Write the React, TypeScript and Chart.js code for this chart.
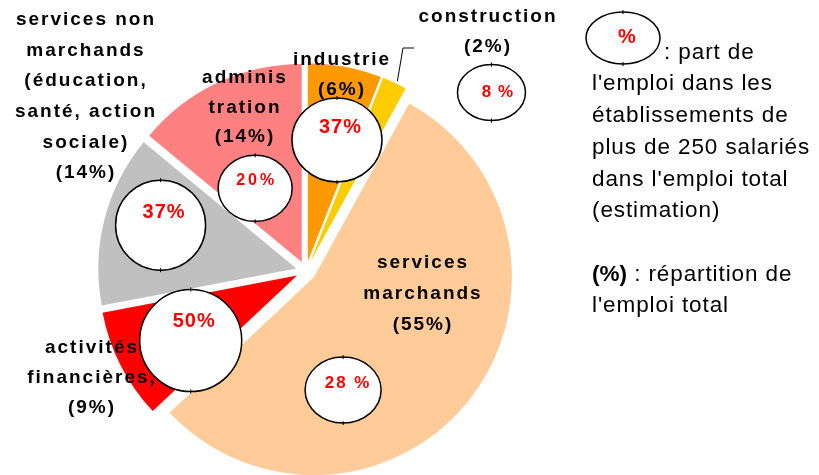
import React, { useEffect, useRef } from 'react';
import { Chart, PieController, ArcElement } from 'chart.js';

Chart.register(PieController, ArcElement);

// ---------- data ----------
const categories = [
  'industrie',
  'construction',
  'services marchands',
  'activités financières',
  'services non marchands',
  'administration',
];
// répartition de l'emploi total (%)
const employmentShare = [6, 2, 55, 9, 14, 14];
// part de l'emploi dans les établissements de plus de 250 salariés (%)
const largeEstabShare = [37, 8, 28, 50, 37, 20];
const largeEstabText = ['37%', '8 %', '28 %', '50%', '37%', '20%'];
const sliceColors = ['#FF9900', '#FFCC00', '#FFCC99', '#FF0000', '#C0C0C0', '#FF8080'];
const labelLines = [
  ['industrie'],
  ['construction'],
  ['services', 'marchands'],
  ['activités', 'financières,'],
  ['services non', 'marchands', '(éducation,', 'santé, action', 'sociale)'],
  ['adminis', 'tration'],
];
const legendLines = [
  "l'emploi dans les",
  'établissements de',
  'plus de 250 salariés',
  "dans l'emploi total",
  '(estimation)',
];

// ---------- layout (not data) ----------
const W = 819;
const H = 475;
const RADIUS = 198;
const EXPLODE = 10;
const labelLayout = [
  { x: 341, y: 60, lh: 30 },
  { x: 487, y: 17, lh: 30 },
  { x: 422, y: 263, lh: 31 },
  { x: 91, y: 348, lh: 30 },
  { x: 85, y: 20, lh: 30.6 },
  { x: 244, y: 78, lh: 29.5 },
];
// bubble centres in polar coordinates around pie centre (deg clockwise from top, fraction of radius)
const bubbleLayout = [
  { angle: 13.3, dist: 0.68, rx: 45, ry: 42, dx: 3, dy: -12, size: 20, ls: 1 },
  { angle: 46.1, dist: 1.3, rx: 34, ry: 28, dx: 6, dy: 0, size: 17, ls: 1 },
  { angle: 162.7, dist: 0.63, rx: 38, ry: 33, dx: 4, dy: -7, size: 17, ls: 2 },
  { angle: 238.9, dist: 0.68, rx: 51, ry: 51, dx: 3, dy: -19, size: 20, ls: 1 },
  { angle: 287.5, dist: 0.77, rx: 45, ry: 45, dx: 3, dy: -13, size: 20, ls: 1 },
  { angle: 328.4, dist: 0.49, rx: 37, ry: 33, dx: 0, dy: -8, size: 16, ls: 3 },
];

const FONT = '"Liberation Sans", Arial, sans-serif';

function setLS(ctx: any, px: number) {
  if ('letterSpacing' in ctx) ctx.letterSpacing = px + 'px';
}

function centeredText(ctx: CanvasRenderingContext2D, text: string, x: number, y: number, ls: number) {
  setLS(ctx, ls);
  ctx.textAlign = 'center';
  ctx.textBaseline = 'middle';
  ctx.fillText(text, x + ls / 2, y);
}

function drawBubble(ctx: CanvasRenderingContext2D, x: number, y: number, rx: number, ry: number) {
  ctx.save();
  ctx.beginPath();
  ctx.ellipse(x, y, rx, ry, 0, 0, Math.PI * 2);
  ctx.fillStyle = '#FFFFFF';
  ctx.fill();
  ctx.lineWidth = 1.5;
  ctx.strokeStyle = '#000000';
  ctx.stroke();
  ctx.beginPath();
  ctx.moveTo(x, y - ry - 2);
  ctx.lineTo(x, y - ry + 2);
  ctx.moveTo(x, y + ry - 2);
  ctx.lineTo(x, y + ry + 2);
  ctx.lineWidth = 1;
  ctx.stroke();
  ctx.restore();
}

const explodePlugin = {
  id: 'explodeSlices',
  beforeDatasetDraw(chart: any, args: any) {
    const ctx = chart.ctx;
    args.meta.data.forEach((arc: any) => {
      const mid = (arc.startAngle + arc.endAngle) / 2;
      ctx.save();
      ctx.translate(Math.cos(mid) * EXPLODE, Math.sin(mid) * EXPLODE);
      arc.draw(ctx);
      ctx.restore();
    });
    return false;
  },
};

const annotationPlugin = {
  id: 'annotations',
  afterDraw(chart: any) {
    const ctx: CanvasRenderingContext2D = chart.ctx;
    const meta = chart.getDatasetMeta(0);
    const first = meta.data[0];
    const cx = first.x;
    const cy = first.y;
    const R = first.outerRadius;

    // leader line for construction
    const c = meta.data[1];
    const cm = (c.startAngle + c.endAngle) / 2;
    ctx.save();
    ctx.strokeStyle = '#000';
    ctx.lineWidth = 1;
    ctx.beginPath();
    ctx.moveTo(cx + Math.cos(cm) * (R + EXPLODE + 2) + 2, cy + Math.sin(cm) * (R + EXPLODE + 2));
    ctx.lineTo(403, 48);
    ctx.lineTo(414, 48);
    ctx.stroke();
    ctx.restore();

    // bubbles
    largeEstabShare.forEach((_v, i) => {
      const b = bubbleLayout[i];
      const a = (b.angle * Math.PI) / 180;
      const x = cx + Math.sin(a) * b.dist * R;
      const y = cy - Math.cos(a) * b.dist * R;
      drawBubble(ctx, x, y, b.rx, b.ry);
      ctx.save();
      ctx.fillStyle = '#FF0000';
      ctx.font = `bold ${b.size}px ${FONT}`;
      centeredText(ctx, largeEstabText[i], x + b.dx, y + b.dy, b.ls);
      ctx.restore();
    });

    // category labels
    ctx.save();
    ctx.fillStyle = '#000';
    ctx.font = `bold 19px ${FONT}`;
    categories.forEach((_c, i) => {
      const lines = [...labelLines[i], `(${employmentShare[i]}%)`];
      const L = labelLayout[i];
      lines.forEach((t, k) => centeredText(ctx, t, L.x, L.y + k * L.lh, 2));
    });
    ctx.restore();

    // legend
    ctx.save();
    drawBubble(ctx, 623, 38, 37, 26);
    ctx.fillStyle = '#FF0000';
    ctx.font = `bold 20px ${FONT}`;
    centeredText(ctx, '%', 627, 37, 0);
    ctx.fillStyle = '#000';
    ctx.textAlign = 'left';
    ctx.textBaseline = 'middle';
    setLS(ctx, 0.9);
    ctx.font = `22.5px ${FONT}`;
    ctx.fillText(': part de', 664, 53);
    legendLines.forEach((t, k) => ctx.fillText(t, 592, 84 + k * 31.8));
    ctx.font = `bold 22.5px ${FONT}`;
    setLS(ctx, 0);
    ctx.fillText('(%)', 592, 275);
    const bw = ctx.measureText('(%)').width;
    ctx.font = `22.5px ${FONT}`;
    setLS(ctx, 0.9);
    ctx.fillText(' : répartition de', 592 + bw, 275);
    ctx.fillText("l'emploi total", 592, 306);
    ctx.restore();
  },
};

export default function App() {
  const ref = useRef<HTMLCanvasElement | null>(null);
  useEffect(() => {
    if (!ref.current) return;
    const chart = new Chart(ref.current, {
      type: 'pie',
      data: {
        labels: categories,
        datasets: [
          {
            data: employmentShare,
            backgroundColor: sliceColors,
            borderWidth: 0,
            radius: RADIUS,
          } as any,
        ],
      },
      options: {
        responsive: false,
        animation: false,
        devicePixelRatio: 1,
        layout: { padding: { left: 0, top: 67, right: W - 612, bottom: 0 } },
        events: [],
      } as any,
      plugins: [explodePlugin, annotationPlugin],
    });
    return () => chart.destroy();
  }, []);
  return (
    <div style={{ position: 'absolute', left: 0, top: 0, width: W, height: H, background: '#fff' }}>
      <canvas ref={ref} width={W} height={H} />
    </div>
  );
}
